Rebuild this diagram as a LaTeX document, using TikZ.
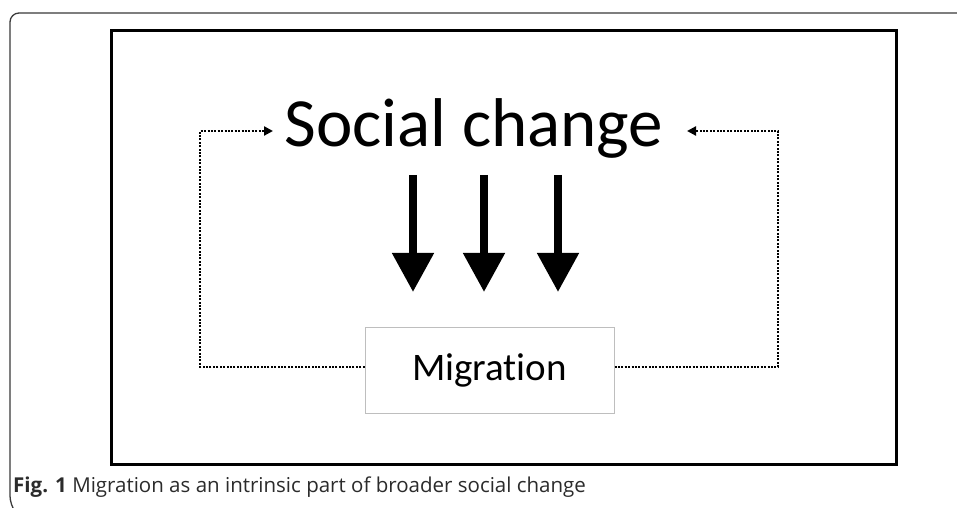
\documentclass[tikz,border=0pt]{standalone}
\usepackage{fontspec}
\setmainfont{Carlito}[Ligatures={NoCommon}]
\newfontfamily\capfont{Open Sans}
\usetikzlibrary{arrows.meta}
\definecolor{framegray}{HTML}{3A3A3A}
\definecolor{boxgray}{HTML}{BEBEBE}
\definecolor{captext}{HTML}{2B2B2B}
\tikzset{
  bigarrow/.style={line width=8bp, -{Triangle[width=40bp,length=39bp]}},
  dotline/.style={line width=2.2bp, dash pattern=on 2bp off 1.4bp},
  dotarrow/.style={dotline, -{Triangle[width=9bp,length=9bp]}},
  migbox/.style={draw=boxgray, line width=1bp, minimum width=249bp, minimum height=85bp, inner sep=0pt},
}
\begin{document}
\begin{tikzpicture}[x=1bp,y=-1bp]
\useasboundingbox (0,0) rectangle (957,508);
\fill[white] (0,0) rectangle (957,508);
% outer rounded frame (partially visible)
\draw[framegray, line width=1.3bp, rounded corners=9bp] (13,509) -- (10,505) -- (10,13) -- (970,13);
% inner thick frame
\draw[black, line width=3bp] (111,31) rectangle (896,464);
% title
\node[font={\fontsize{69bp}{80bp}\selectfont}, inner sep=0pt] (sc) at (474,128) {Social change};
% migration box
\node[migbox, font={\fontsize{39bp}{45bp}\selectfont}] (mig) at (489.5,370.5) {Migration};
% big arrows
\coordinate (a1s) at (413,175); \coordinate (a1e) at (413,292);
\coordinate (a2s) at (484,175); \coordinate (a2e) at (484,292);
\coordinate (a3s) at (558,175); \coordinate (a3e) at (558,292);
\draw[bigarrow] (a1s) -- (a1e);
\draw[bigarrow] (a2s) -- (a2e);
\draw[bigarrow] (a3s) -- (a3e);
% dotted feedback lines
\coordinate (lb) at (200,367); \coordinate (lt) at (200,131); \coordinate (ltip) at (273,131);
\coordinate (rb) at (778,367); \coordinate (rt) at (778,131); \coordinate (rtip) at (687,131);
\draw[dotarrow] (mig.west |- lb) -- (lb) -- (lt) -- (ltip);
\draw[dotarrow] (mig.east |- rb) -- (rb) -- (rt) -- (rtip);
% caption
\node[anchor=base west, inner sep=0pt, text=captext, font={\capfont\fontsize{20.5bp}{24bp}\selectfont}] (cap) at (13,492) {\textbf{Fig. 1} Migration as an intrinsic part of broader social change};
\end{tikzpicture}
\end{document}
